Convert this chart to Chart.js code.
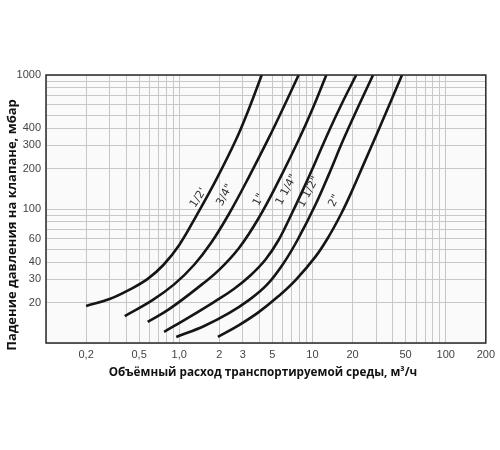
<!DOCTYPE html>
<html>
<head>
<meta charset="utf-8">
<script src="https://cdn.jsdelivr.net/npm/chart.js@4"></script>
<style>
  html, body { margin: 0; padding: 0; background: #fff; }
  #wrap { width: 500px; height: 450px; }
</style>
</head>
<body>
<div id="wrap"><canvas id="chart"></canvas></div>
<script>
// valve sizes (curve names)
const sizes = ["1/2'", '3/4"', '1"', '1 1/4"', '1 1/2"', '2"'];

// flow, m3/h  and  pressure drop, mbar
const flow12 = [0.2, 0.3, 0.42, 0.58, 0.76, 1.0, 1.34, 1.89, 2.66, 3.33, 4.16];
const dp12   = [18.9, 21.3, 24.9, 30.1, 38.2, 53.9, 88.6, 165, 327, 557, 1000];

const flow34 = [0.39, 0.63, 0.92, 1.29, 1.73, 2.36, 3.33, 4.7, 6.08, 7.87];
const dp34   = [15.9, 20.9, 27.5, 38.2, 55.7, 91.8, 173, 339, 577, 1000];

const flow1 = [0.58, 0.84, 1.49, 1.99, 2.81, 3.95, 5.57, 7.87, 10.0, 12.7];
const dp1   = [14.4, 17.9, 27.5, 35.1, 51.2, 85.7, 162, 327, 557, 1000];

const flow114 = [0.77, 1.19, 1.82, 2.57, 3.45, 4.46, 5.57, 6.97, 8.28, 10.35, 13.2, 16.7, 21.3];
const dp114   = [12.1, 15.6, 20.2, 25.3, 32.2, 42.2, 58.7, 91.8, 132, 216, 376, 618, 1000];

const flow112 = [0.95, 1.54, 2.36, 3.33, 4.54, 6.08, 7.87, 10.5, 13.2, 17.0, 22.0, 28.5];
const dp112   = [11.1, 13.4, 16.7, 20.9, 27.1, 39.5, 60.8, 107, 179, 327, 577, 1000];

const flow2 = [1.95, 2.81, 3.95, 5.57, 7.47, 10.5, 13.2, 16.5, 19.5, 24.4, 31.1, 47.0];
const dp2   = [11.1, 13.6, 17.0, 22.4, 29.5, 43.9, 62, 93, 132, 220, 382, 1000];

const flows = [flow12, flow34, flow1, flow114, flow112, flow2];
const drops = [dp12, dp34, dp1, dp114, dp112, dp2];

// where each curve name sits (flow, mbar)
const labelFlow = [1.39, 2.2, 3.95, 6.4, 9.35, 14.6];
const labelDp   = [121, 127, 117, 139, 134, 115];

// axes
const xGrid = [0.1, 0.2, 0.3, 0.4, 0.5, 0.6, 0.7, 0.8, 0.9,
               1, 2, 3, 4, 5, 6, 7, 8, 9,
               10, 20, 30, 40, 50, 60, 70, 80, 90, 100, 200];
const xTickValues = [0.2, 0.5, 1, 2, 3, 5, 10, 20, 50, 100, 200];
const xTickLabels = ['0,2', '0,5', '1,0', '2', '3', '5', '10', '20', '50', '100', '200'];

const yGrid = [10, 20, 30, 40, 50, 60, 70, 80, 90,
               100, 200, 300, 400, 500, 600, 700, 800, 900, 1000];
const yTickValues = [20, 30, 40, 60, 100, 200, 300, 400, 1000];
const yTickLabels = ['20', '30', '40', '60', '100', '200', '300', '400', '1000'];

const xTitle = 'Объёмный расход транспортируемой среды, м³/ч';
const yTitle = 'Падение давления на клапане, мбар';

function labelFor(values, labels, v) {
  const i = values.findIndex(t => Math.abs(t - v) < 1e-6 * t);
  return i >= 0 ? labels[i] : '';
}

const datasets = sizes.map((name, i) => ({
  label: name,
  data: flows[i].map((x, j) => ({ x: x, y: drops[i][j] })),
  showLine: true,
  borderColor: '#151515',
  borderWidth: 2.6,
  pointRadius: 0,
  tension: 0.4
}));

const decor = {
  id: 'decor',
  beforeDraw(chart) {
    const { ctx, chartArea: a } = chart;
    ctx.save();
    ctx.fillStyle = '#fafafa';
    ctx.fillRect(a.left, a.top, a.right - a.left, a.bottom - a.top);
    ctx.restore();
  },
  afterDraw(chart) {
    const { ctx, chartArea: a, scales } = chart;
    ctx.save();
    // frame
    ctx.strokeStyle = '#2a2a2a';
    ctx.lineWidth = 1.5;
    ctx.strokeRect(a.left, a.top, a.right - a.left, a.bottom - a.top);

    // curve names along the lines
    ctx.fillStyle = '#333';
    ctx.font = '11px "DejaVu Sans"';
    ctx.textAlign = 'center';
    ctx.textBaseline = 'middle';
    sizes.forEach((name, i) => {
      const px = scales.x.getPixelForValue(labelFlow[i]);
      const py = scales.y.getPixelForValue(labelDp[i]);
      ctx.save();
      ctx.translate(px, py);
      ctx.rotate((i === 0 ? -57 : -62) * Math.PI / 180);
      ctx.fillText(name, 0, 0);
      ctx.restore();
    });

    // axis titles
    ctx.fillStyle = '#111';
    ctx.font = 'bold 11.7px "Open Sans"';
    ctx.fillText(xTitle, 263, 373);
    ctx.font = 'bold 13px "Open Sans"';
    ctx.save();
    ctx.translate(12, 225);
    ctx.rotate(-Math.PI / 2);
    ctx.fillText(yTitle, 0, 0);
    ctx.restore();
    ctx.restore();
  }
};

new Chart(document.getElementById('chart'), {
  type: 'scatter',
  data: { datasets: datasets },
  plugins: [decor],
  options: {
    responsive: true,
    maintainAspectRatio: false,
    animation: false,
    layout: { padding: { top: 75, right: 12, left: 0, bottom: 77 } },
    plugins: { legend: { display: false }, tooltip: { enabled: false } },
    scales: {
      x: {
        type: 'logarithmic',
        min: 0.1,
        max: 200,
        afterBuildTicks: s => { s.ticks = xGrid.map(v => ({ value: v })); },
        afterFit: s => { s.height = 30; },
        grid: { color: '#c8c8c8', lineWidth: 1, drawTicks: false },
        border: { display: false },
        ticks: {
          autoSkip: false,
          maxRotation: 0,
          padding: 5,
          color: '#444',
          font: { family: 'Liberation Sans', size: 11 },
          callback: v => labelFor(xTickValues, xTickLabels, v)
        }
      },
      y: {
        type: 'logarithmic',
        min: 10,
        max: 1000,
        afterBuildTicks: s => { s.ticks = yGrid.map(v => ({ value: v })); },
        afterFit: s => { s.width = 46; },
        grid: { color: '#c8c8c8', lineWidth: 1, drawTicks: false },
        border: { display: false },
        ticks: {
          autoSkip: false,
          padding: 5,
          color: '#444',
          font: { family: 'Liberation Sans', size: 11 },
          callback: v => labelFor(yTickValues, yTickLabels, v)
        }
      }
    }
  }
});
</script>
</body>
</html>
